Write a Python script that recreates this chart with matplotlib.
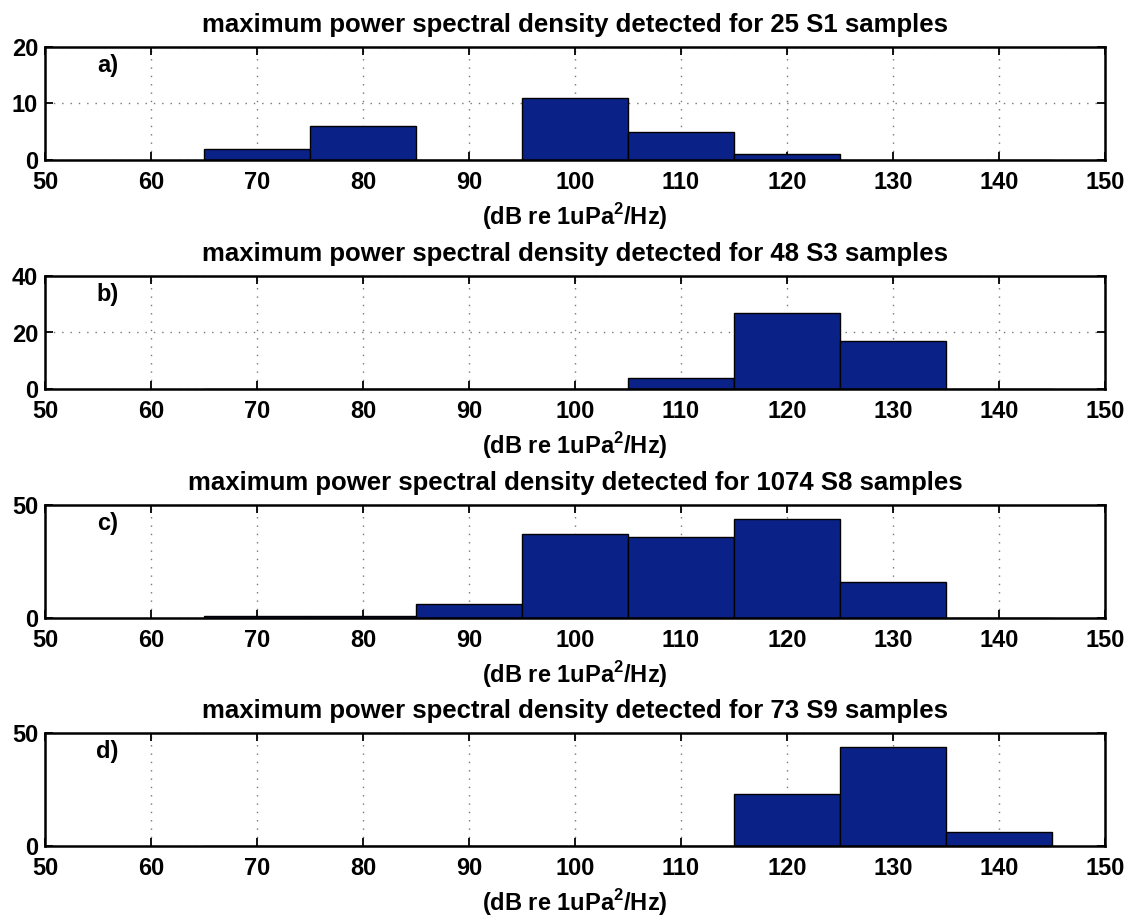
import matplotlib
matplotlib.use("Agg")
import matplotlib.pyplot as plt

plt.rcParams['font.family'] = ['Liberation Sans', 'DejaVu Sans']
plt.rcParams['mathtext.fontset'] = 'custom'
plt.rcParams['mathtext.bf'] = 'Liberation Sans:bold'

bin_centers = [70, 80, 90, 100, 110, 120, 130, 140]
counts_a = [2, 6, 0, 11, 5, 1, 0, 0]
counts_b = [0, 0, 0, 0, 4, 27, 17, 0]
counts_c = [1, 1, 6, 37, 36, 44, 16, 0]
counts_d = [0, 0, 0, 0, 0, 23, 44, 6]

titles = ["maximum power spectral density detected for 25 S1 samples",
          "maximum power spectral density detected for 48 S3 samples",
          "maximum power spectral density detected for 1074 S8 samples",
          "maximum power spectral density detected for 73 S9 samples"]
panel_labels = ["a)", "b)", "c)", "d)"]
yticks_list = [[0, 10, 20], [0, 20, 40], [0, 50], [0, 50]]
ylims = [20, 40, 50, 50]
xticks = [50, 60, 70, 80, 90, 100, 110, 120, 130, 140, 150]
xlabel = "(dB re 1uPa$^\\mathbf{2}$/Hz)"

all_counts = [counts_a, counts_b, counts_c, counts_d]

W, H = 1135, 922
fig = plt.figure(figsize=(W / 100, H / 100), dpi=100)
tops = [47, 276, 505, 733]
ax_h = 113
left, right = 45, 1105

for i in range(4):
    ax = fig.add_axes([left / W, 1 - (tops[i] + ax_h) / H, (right - left) / W, ax_h / H])
    ax.set_axisbelow(True)
    ax.bar(bin_centers, all_counts[i], width=10, color='#0a2288', edgecolor='black',
           linewidth=1.0, align='center')
    ax.set_xlim(50, 150)
    ax.set_ylim(0, ylims[i])
    ax.set_xticks(xticks)
    ax.set_yticks(yticks_list[i])
    ax.grid(True, linestyle=(0, (1, 5)), color='#777777', linewidth=1.0)
    ax.tick_params(direction='in', top=True, right=True, length=6, width=1.3,
                   labelsize=17)
    for lab in ax.get_xticklabels() + ax.get_yticklabels():
        lab.set_fontweight('bold')
    ax.tick_params(axis='y', pad=5)
    ax.tick_params(axis='x', pad=8)
    for s in ax.spines.values():
        s.set_linewidth(1.8)
    ax.set_title(titles[i], fontsize=18.5, fontweight='bold', pad=11)
    ax.set_xlabel(xlabel, fontsize=17, fontweight='bold', labelpad=5)
    ax.text(55.9, ylims[i] * 0.84, panel_labels[i], fontsize=17, fontweight='bold',
            ha='center', va='center')

fig.savefig("out.png", dpi=100)
